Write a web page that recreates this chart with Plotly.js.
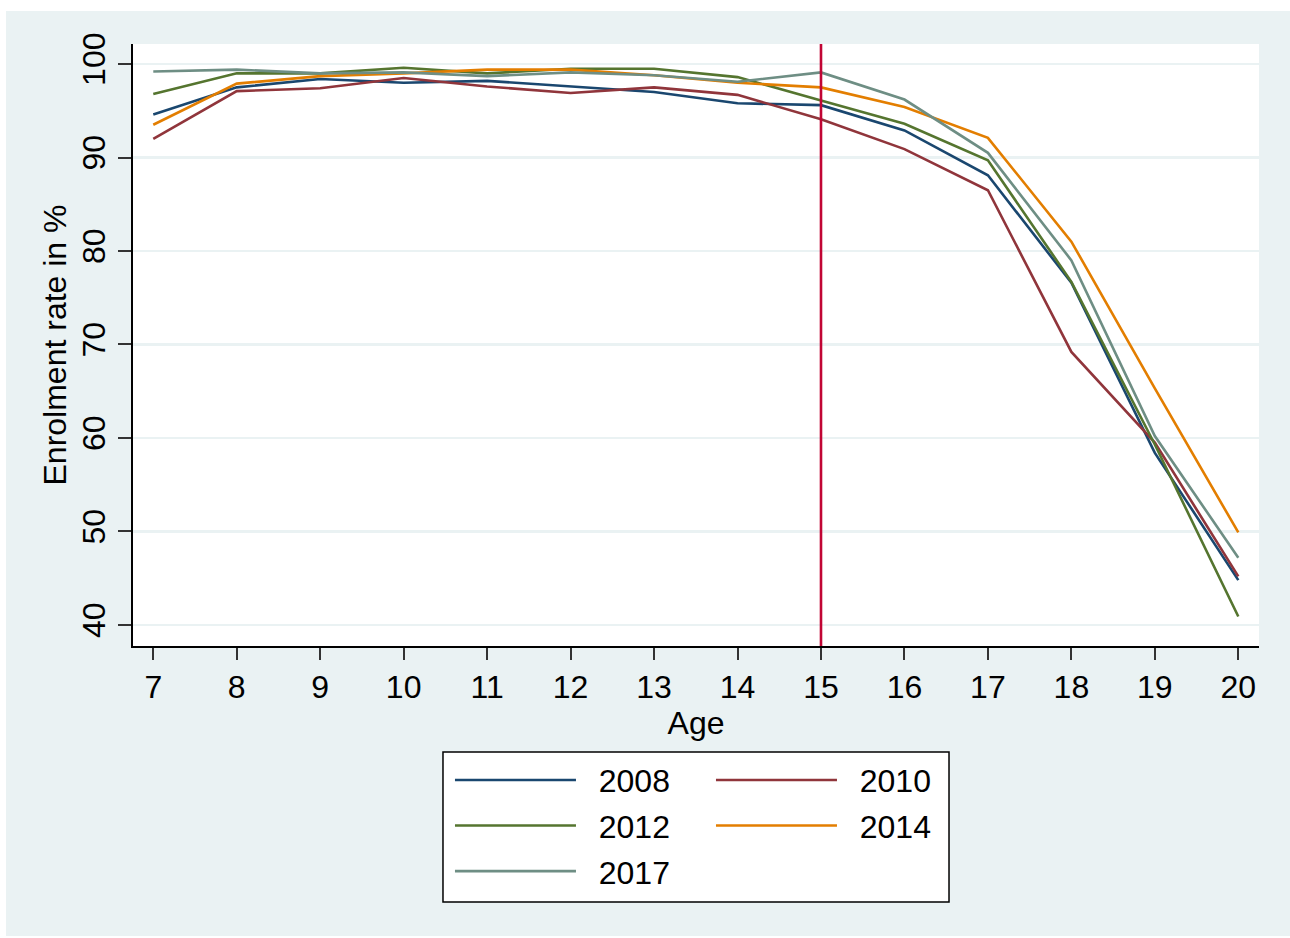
<!DOCTYPE html>
<html>
<head>
<meta charset="utf-8">
<script src="https://cdn.plot.ly/plotly-3.0.1.min.js"></script>
<style>
  html, body { margin: 0; padding: 0; background: #ffffff; }
  #chart { position: absolute; left: 6px; top: 11px; width: 1284px; height: 925px; }
</style>
</head>
<body>
<div id="chart"></div>
<script>
// ---- data ----
const ages = [7, 8, 9, 10, 11, 12, 13, 14, 15, 16, 17, 18, 19, 20];
const years = ['2008', '2010', '2012', '2014', '2017'];
const enrol2008 = [94.6, 97.5, 98.4, 98.0, 98.2, 97.6, 97.0, 95.8, 95.6, 92.9, 88.1, 76.6, 58.4, 44.8];
const enrol2010 = [92.0, 97.1, 97.4, 98.5, 97.6, 96.9, 97.5, 96.7, 94.1, 90.9, 86.5, 69.2, 59.5, 45.2];
const enrol2012 = [96.8, 99.0, 99.0, 99.6, 99.0, 99.5, 99.5, 98.6, 96.1, 93.6, 89.7, 76.7, 59.3, 40.9];
const enrol2014 = [93.5, 97.9, 98.7, 99.0, 99.4, 99.4, 98.8, 98.0, 97.5, 95.4, 92.1, 81.0, 65.3, 49.9];
const enrol2017 = [99.2, 99.4, 99.0, 99.1, 98.7, 99.1, 98.8, 98.1, 99.1, 96.2, 90.5, 79.0, 60.2, 47.2];
const cutoffAge = 15;
const yTicks = [40, 50, 60, 70, 80, 90, 100];

// ---- styles ----
const series = [enrol2008, enrol2010, enrol2012, enrol2014, enrol2017];
const colors = ['#1a476f', '#90353b', '#55752f', '#e37e00', '#6e8e84'];
const legendOf = ['legend', 'legend2', 'legend', 'legend2', 'legend'];
const FONT = 'Liberation Sans, Arial, sans-serif';
const FS = 32;
const PAD = '\u00a0\u00a0';

const traces = series.map((vals, i) => ({
  type: 'scatter',
  mode: 'lines',
  x: ages,
  y: vals,
  name: PAD + years[i],
  legend: legendOf[i],
  legendgroup: 'g' + years[i],
  line: { color: colors[i], width: 2.6 },
  hoverinfo: 'x+y+name'
}));

const legendCommon = {
  orientation: 'v',
  xanchor: 'left',
  yanchor: 'top',
  bgcolor: 'rgba(0,0,0,0)',
  borderwidth: 0,
  font: { family: FONT, size: FS, color: '#000' },
  itemwidth: 121,
  tracegroupgap: 1,
  traceorder: 'grouped'
};

const layout = {
  width: 1284,
  height: 925,
  paper_bgcolor: '#eaf2f3',
  plot_bgcolor: '#ffffff',
  margin: { l: 127, r: 31, t: 33, b: 290 },
  font: { family: FONT, size: FS, color: '#000' },
  showlegend: true,
  xaxis: {
    range: [6.757, 20.248],
    tickmode: 'array',
    tickvals: ages,
    ticktext: ages.map(String),
    ticks: 'outside',
    ticklen: 12,
    tickwidth: 2,
    tickcolor: '#333',
    showline: true,
    linecolor: '#000',
    linewidth: 2,
    showgrid: false,
    zeroline: false,
    tickfont: { family: FONT, size: FS, color: '#000' },
    title: { text: 'Age', font: { family: FONT, size: FS, color: '#000' }, standoff: 0 }
  },
  yaxis: {
    range: [37.75, 102.14],
    tickmode: 'array',
    tickvals: yTicks,
    ticktext: yTicks.map(String),
    tickangle: -90,
    ticks: 'outside',
    ticklen: 13,
    tickwidth: 2,
    tickcolor: '#333',
    showline: true,
    linecolor: '#000',
    linewidth: 2,
    showgrid: true,
    gridcolor: '#eaf2f3',
    gridwidth: 2.5,
    zeroline: false,
    tickfont: { family: FONT, size: FS, color: '#000' },
    title: { text: 'Enrolment rate in %', font: { family: FONT, size: FS, color: '#000' }, standoff: 0 }
  },
  legend: Object.assign({}, legendCommon, { x: 0.2815, y: -0.1772 }),
  legend2: Object.assign({}, legendCommon, { x: 0.5133, y: -0.1772 }),
  shapes: [
    {
      type: 'line', xref: 'x', yref: 'paper',
      x0: cutoffAge, x1: cutoffAge, y0: 0, y1: 1,
      line: { color: '#c10534', width: 2.6 },
      layer: 'above'
    },
    {
      type: 'rect', xref: 'paper', yref: 'paper',
      x0: 0.2753, x1: 0.7247, y0: -0.4252, y1: -0.1761,
      fillcolor: '#ffffff',
      line: { color: '#000', width: 1.5 },
      layer: 'above'
    }
  ]
};

Plotly.newPlot('chart', traces, layout, { displayModeBar: false, staticPlot: true });
</script>
</body>
</html>
